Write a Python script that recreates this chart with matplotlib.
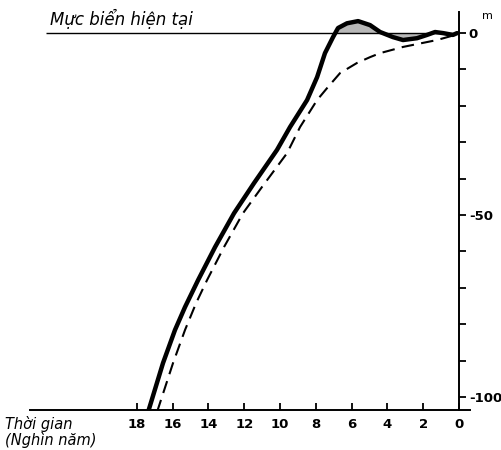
import matplotlib.pyplot as plt

# solid curve: sea level (m) vs time (thousand years ago)
solid_t = [17.37, 16.54, 15.87, 15.31, 14.58, 13.63, 12.57, 11.45, 10.17, 9.44, 8.49,
           7.93, 7.49, 7.04, 6.76, 6.26, 5.64, 4.97, 4.41, 3.69, 3.13, 2.35, 1.79,
           1.34, 0.89, 0.34, 0.11]
solid_l = [-104.1, -90.7, -81.6, -75.3, -67.9, -58.8, -49.5, -41.2, -32.1, -25.8, -18.4,
           -12.1, -5.5, -1.1, 1.4, 2.7, 3.3, 2.2, 0.3, -1.1, -1.9, -1.4, -0.5,
           0.3, 0.0, -0.5, 0.0]

# dashed curve
dash_t = [16.87, 15.98, 15.31, 14.69, 14.08, 13.13, 12.07, 11.01, 9.61, 8.88, 7.93,
          7.32, 6.65, 5.70, 4.97, 4.41, 3.13, 1.23, 0.22]
dash_l = [-104.1, -90.7, -81.6, -74.2, -67.9, -58.8, -49.5, -42.3, -33.0, -25.8, -18.4,
          -14.8, -11.0, -8.2, -6.6, -5.5, -3.8, -1.9, -0.5]

xticks = [18, 16, 14, 12, 10, 8, 6, 4, 2, 0]
yticks = [0, -10, -20, -30, -40, -50, -60, -70, -80, -90, -100]
ylabels = {0: "0", -50: "-50", -100: "-100"}

fig = plt.figure(figsize=(5.02, 4.5), dpi=100)
ax = fig.add_axes([0.0598, 0.0889, 0.876, 0.8844])
ax.set_xlim(23.97, -0.6)
ax.set_ylim(-103.6, 5.8)

for s in ["top", "left"]:
    ax.spines[s].set_visible(False)
ax.spines["right"].set_position(("data", 0))
ax.spines["right"].set_linewidth(1.4)
ax.spines["bottom"].set_linewidth(1.4)

ax.yaxis.tick_right()
ax.set_yticks(yticks)
ax.set_yticklabels([ylabels.get(v, "") for v in yticks], fontsize=9.5, fontweight="bold")
ax.tick_params(axis="y", direction="out", length=5, width=1.3, pad=2)
ax.set_xticks(xticks)
ax.set_xticklabels([str(v) for v in xticks], fontsize=9.5, fontweight="bold")
ax.tick_params(axis="x", direction="in", length=5, width=1.3, pad=6)

# present sea level line
ax.hlines(0, 23.1, 0, color="black", lw=1.0)

ax.fill_between(solid_t, solid_l, 0, where=[v >= 0 for v in solid_l],
                interpolate=True, color="#b8b8b8", lw=0)
ax.fill_between(solid_t, solid_l, 0, where=[v <= 0 and t < 5 for t, v in zip(solid_t, solid_l)],
                interpolate=True, color="#b8b8b8", lw=0)
ax.plot(solid_t, solid_l, color="black", lw=3.2, solid_capstyle="round",
        solid_joinstyle="round")
ax.plot(dash_t, dash_l, color="black", lw=1.5, dashes=(6, 3.5))

ax.text(22.85, 1.2, "Mực biển hiện tại", fontsize=12, style="italic", ha="left", va="bottom")
ax.text(-1.3, 3.2, "m", fontsize=8, ha="left", va="bottom", clip_on=False)
fig.text(0.01, 0.005, "Thời gian\n(Nghìn năm)", fontsize=10.5, style="italic",
         ha="left", va="bottom", linespacing=0.95)

fig.savefig("out.png", dpi=100)
